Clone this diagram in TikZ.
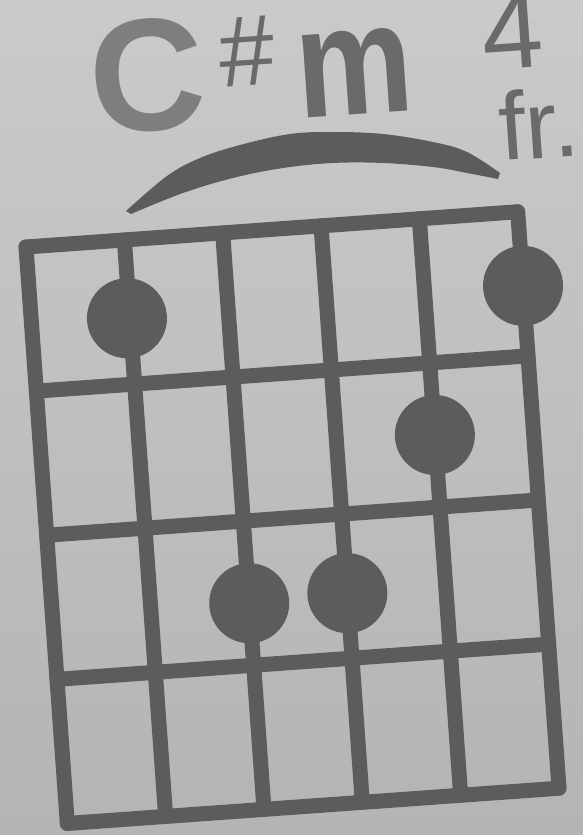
\documentclass[tikz,border=0pt]{standalone}
\usepackage{fontspec}
\setmainfont{Liberation Sans}
\begin{document}
\begin{tikzpicture}[x=1pt,y=-1pt,
  gridline/.style={draw=ink,line width=15pt,line cap=round,line join=round},
  fingerdot/.style={circle,fill=ink,minimum size=80pt,inner sep=0pt},
  barre/.style={fill=ink},
  lbl/.style={inner sep=0pt,rotate=4}]
\definecolor{papertop}{HTML}{CACACA}
\definecolor{paperbot}{HTML}{B4B4B4}
\definecolor{ink}{HTML}{5C5C5C}
\definecolor{inkmid}{HTML}{7E7E7E}
\definecolor{inktext}{HTML}{6A6A6A}
\useasboundingbox (0,0) rectangle (583,835);
\shade[top color=papertop,bottom color=paperbot] (0,0) rectangle (583,835);
\clip (0,0) rectangle (583,835);
% title
\node[lbl,text=inkmid,font=\bfseries\fontsize{160}{160}\selectfont] (C) at (147,76) {C};
\node[lbl,text=inktext,font=\fontsize{100}{100}\selectfont] (sharp) at (247,51) {\#};
\node[lbl,text=inktext,font=\bfseries\fontsize{156}{156}\selectfont,xscale=0.84] (m) at (355,73) {m};
\node[lbl,text=inktext,font=\fontsize{110}{110}\selectfont,anchor=base] (four) at (515,68) {4};
\node[lbl,text=inktext,font=\fontsize{96}{96}\selectfont,anchor=base west] (fr) at (501,161) {fr.};
% barre arc
\fill[barre] plot[smooth,tension=0.6] coordinates {(126,211) (167,176) (200,158) (240,145) (290,134) (333,132) (383,134) (433,142) (467,152) (500,173)}
  -- plot[smooth,tension=0.6] coordinates {(498,179) (467,173) (433,167) (383,163) (333,163) (283,168) (233,178) (183,193) (131,214)} -- cycle;
% grid
\begin{scope}[shift={(26,247)},rotate=4.1]
  \def\w{98.6}\def\h{144.5}
  \foreach \i in {0,...,5} {
    \coordinate (t\i) at (\i*\w,0);
    \coordinate (b\i) at (\i*\w,4*\h);
  }
  \foreach \j in {0,...,4} {
    \coordinate (l\j) at (0,\j*\h);
    \coordinate (r\j) at (5*\w,\j*\h);
  }
  \foreach \i in {0,...,5} \draw[gridline] (t\i) -- (b\i);
  \foreach \j in {0,...,4} \draw[gridline] (l\j) -- (r\j);
  \node[fingerdot] (d1) at (1*\w-3,0.5*\h+6) {};
  \node[fingerdot] (d2) at (5*\w,0.5*\h+2) {};
  \node[fingerdot] (d3) at (4*\w,1.5*\h) {};
  \node[fingerdot] (d4) at (2*\w,2.5*\h+10) {};
  \node[fingerdot] (d5) at (3*\w,2.5*\h+7) {};
\end{scope}
\end{tikzpicture}
\end{document}
